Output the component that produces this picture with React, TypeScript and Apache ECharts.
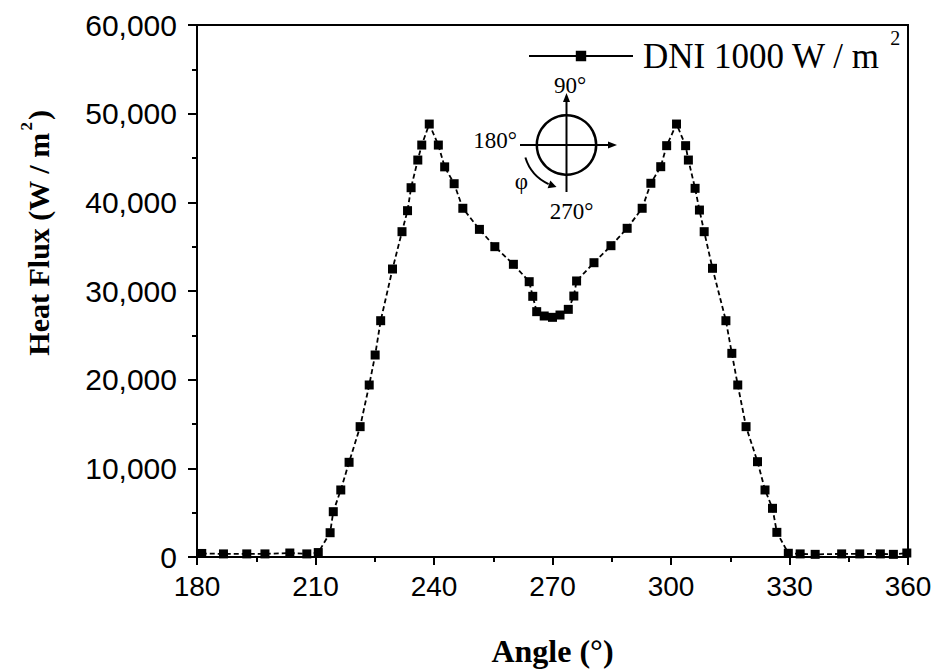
import React, { useEffect, useRef } from "react";
import * as echarts from "echarts";

// Circumferential heat flux on the absorber tube, DNI = 1000 W/m²
const angles = [
  181.2, 186.7, 192.6, 197.2, 203.5, 207.8, 210.7,
  213.7, 214.5, 216.4, 218.5, 221.3, 223.6, 225.1, 226.5, 229.5, 231.9,
  233.3, 234.2, 235.9, 236.9, 238.8, 241.1, 242.7, 245.1, 247.3, 251.5,
  255.4, 260.1, 264.1, 265.0, 266.0, 267.9, 270.0, 271.9, 274.0, 275.4,
  276.1, 280.5, 284.8, 288.9, 292.7, 294.9, 297.4, 298.9, 301.4, 303.7,
  304.4, 306.1, 307.2, 308.4, 310.5, 313.9, 315.4, 316.9, 319.0, 321.9,
  323.8, 325.7, 326.8,
  329.7, 332.7, 336.5, 343.2, 347.8, 353.0, 356.3, 359.7,
];
const heatFlux = [
  400, 350, 350, 350, 450, 350, 500,
  2740, 5110, 7560, 10680, 14700, 19400, 22780, 26650, 32480, 36690,
  39060, 41650, 44770, 46460, 48830, 46460, 44000, 42100, 39330, 36950,
  35000, 33010, 31050, 29400, 27670, 27180, 27030, 27290, 27930, 29430,
  31130, 33190, 35110, 37070, 39330, 42150, 44020, 46390, 48830, 46390,
  44770, 41580, 39130, 36690, 32560, 26650, 22970, 19400, 14700, 10750,
  7560, 5490, 2780,
  420, 350, 300, 350, 350, 350, 300, 450,
];
const seriesName = "DNI 1000 W / m2";
const xTicks = { min: 180, max: 360, interval: 30 };
const yTicks = { min: 0, max: 60000, interval: 10000 };

const SERIF = "'Liberation Serif', 'Times New Roman', serif";
const SANS = "'Liberation Sans', Arial, sans-serif";

export default function App() {
  const ref = useRef<HTMLDivElement>(null);

  useEffect(() => {
    if (!ref.current) return;
    const chart = echarts.init(ref.current, null, { renderer: "svg" });

    const points = angles.map((a, i) => [a, heatFlux[i]]);

    // small orientation sketch: circle with axes and rotation arrow
    const cx = 566.5;
    const cy = 145;
    const arcR = 43;
    const a0 = (110 * Math.PI) / 180;
    const a1 = (163 * Math.PI) / 180;
    const ex = cx + arcR * Math.cos(a0);
    const ey = cy + arcR * Math.sin(a0);
    const dx = Math.sin(a0);
    const dy = -Math.cos(a0);
    const px = -dy;
    const py = dx;

    chart.setOption({
      animation: false,
      backgroundColor: "#ffffff",
      grid: {
        left: 197,
        right: 38,
        top: 25,
        bottom: 115,
        show: true,
        borderColor: "#000",
        borderWidth: 2,
      },
      legend: {
        left: 528,
        top: 28,
        padding: 0,
        itemWidth: 104,
        itemHeight: 13,
        lineStyle: { type: "solid", width: 2, color: "#000" },
        formatter: () => "{t|DNI 1000 W / m}{s|2}",
        textStyle: {
          color: "#000",
          fontFamily: SERIF,
          rich: {
            t: {
              fontFamily: SERIF,
              fontSize: 35,
              lineHeight: 56,
              verticalAlign: "middle",
              padding: [0, 0, 0, 5],
              color: "#000",
            },
            s: {
              fontFamily: SERIF,
              fontSize: 20,
              lineHeight: 56,
              verticalAlign: "top",
              padding: [0, 0, 0, 10],
              color: "#000",
            },
          },
        },
        data: [seriesName],
      },
      xAxis: {
        type: "value",
        min: xTicks.min,
        max: xTicks.max,
        interval: xTicks.interval,
        name: "Angle (°)",
        nameLocation: "middle",
        nameGap: 78,
        nameTextStyle: {
          fontFamily: SERIF,
          fontWeight: "bold",
          fontSize: 32,
          color: "#000",
        },
        axisLine: { show: true, lineStyle: { color: "#000", width: 2 } },
        axisTick: { show: true, length: 8, lineStyle: { color: "#000", width: 2 } },
        minorTick: { show: true, splitNumber: 2, length: 5, lineStyle: { color: "#000", width: 2 } },
        splitLine: { show: false },
        minorSplitLine: { show: false },
        axisLabel: {
          color: "#000",
          fontFamily: SANS,
          fontSize: 28,
          margin: 15,
        },
      },
      yAxis: {
        type: "value",
        min: yTicks.min,
        max: yTicks.max,
        interval: yTicks.interval,
        name: "{a|Heat Flux (W / m}{b|2}{a|)}",
        nameLocation: "middle",
        nameGap: 139,
        nameTextStyle: {
          padding: [0, 0, 0, 116],
          rich: {
            a: {
              fontFamily: SERIF,
              fontWeight: "bold",
              fontSize: 30,
              lineHeight: 40,
              verticalAlign: "middle",
              color: "#000",
            },
            b: {
              fontFamily: SERIF,
              fontWeight: "bold",
              fontSize: 17,
              lineHeight: 40,
              verticalAlign: "top",
              padding: [0, 2, 0, 2],
              color: "#000",
            },
          },
        },
        axisLine: { show: true, lineStyle: { color: "#000", width: 2 } },
        axisTick: { show: true, length: 9, lineStyle: { color: "#000", width: 2 } },
        minorTick: { show: true, splitNumber: 2, length: 5, lineStyle: { color: "#000", width: 2 } },
        splitLine: { show: false },
        minorSplitLine: { show: false },
        axisLabel: {
          color: "#000",
          fontFamily: SANS,
          fontSize: 30,
          margin: 20,
          formatter: (v: number) => v.toLocaleString("en-US"),
        },
      },
      series: [
        {
          name: seriesName,
          type: "line",
          data: points,
          symbol: "rect",
          symbolSize: 9,
          itemStyle: { color: "#000" },
          lineStyle: { color: "#000", width: 1.8, type: [5, 3] },
          z: 3,
        },
      ],
      graphic: [
        {
          type: "circle",
          shape: { cx, cy, r: 29.7 },
          style: { fill: "none", stroke: "#000", lineWidth: 2.5 },
        },
        {
          type: "line",
          shape: { x1: 520, y1: cy, x2: 611, y2: cy },
          style: { stroke: "#000", lineWidth: 2 },
        },
        {
          type: "polygon",
          shape: { points: [[617, cy], [608, cy - 3.5], [608, cy + 3.5]] },
          style: { fill: "#000" },
        },
        {
          type: "line",
          shape: { x1: cx, y1: 192, x2: cx, y2: 99 },
          style: { stroke: "#000", lineWidth: 2 },
        },
        {
          type: "polygon",
          shape: { points: [[cx, 93], [cx - 3.5, 102], [cx + 3.5, 102]] },
          style: { fill: "#000" },
        },
        {
          type: "arc",
          shape: { cx, cy, r: arcR, startAngle: a0 + 0.08, endAngle: a1, clockwise: true },
          style: { stroke: "#000", lineWidth: 2, fill: "none" },
        },
        {
          type: "polygon",
          shape: {
            points: [
              [ex + dx * 5, ey + dy * 5],
              [ex - dx * 3 + px * 4, ey - dy * 3 + py * 4],
              [ex - dx * 3 - px * 4, ey - dy * 3 - py * 4],
            ],
          },
          style: { fill: "#000" },
        },
        {
          type: "text",
          x: 570,
          y: 85,
          style: { text: "90°", font: `23px ${SERIF}`, fill: "#000", align: "center", verticalAlign: "middle" },
        },
        {
          type: "text",
          x: 517,
          y: 140,
          style: { text: "180°", font: `23px ${SERIF}`, fill: "#000", align: "right", verticalAlign: "middle" },
        },
        {
          type: "text",
          x: 571.5,
          y: 211,
          style: { text: "270°", font: `23px ${SERIF}`, fill: "#000", align: "center", verticalAlign: "middle" },
        },
        {
          type: "text",
          x: 521.5,
          y: 181,
          style: { text: "φ", font: `23px ${SERIF}`, fill: "#000", align: "center", verticalAlign: "middle" },
        },
      ],
    });

    return () => chart.dispose();
  }, []);

  return (
    <div
      ref={ref}
      style={{ position: "fixed", left: 0, top: 0, width: 946, height: 672, background: "#fff" }}
    />
  );
}
